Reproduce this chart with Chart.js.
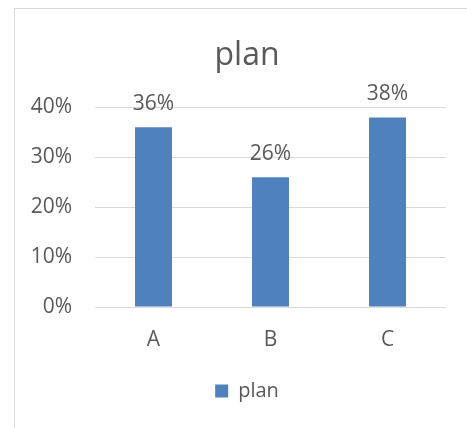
<!DOCTYPE html>
<html>
<head>
<meta charset="utf-8">
<script src="https://cdn.jsdelivr.net/npm/chart.js@4/dist/chart.umd.min.js"></script>
<style>
  html, body { margin: 0; padding: 0; background: #fff; overflow: hidden; width: 467px; height: 428px; }
  #box { position: absolute; left: 14px; top: 8px; width: 464px; height: 438px; border: 1px solid #D9D9D9; background: #fff; }
  canvas { display: block; }
</style>
</head>
<body>
<div id="box"><canvas id="c" width="464" height="438"></canvas></div>
<script>
const categories = ['A', 'B', 'C'];
const seriesName = 'plan';
const planValues = [0.36, 0.26, 0.38];
const yTickValues = [0, 0.1, 0.2, 0.3, 0.4];

const FONT = '"Open Sans", "DejaVu Sans", sans-serif';
const TEXT = '#595959';
const pct = v => Math.round(v * 100) + '%';

const valueLabels = {
  id: 'valueLabels',
  afterDatasetsDraw(chart) {
    const ctx = chart.ctx;
    ctx.save();
    ctx.font = '21px ' + FONT;
    ctx.fillStyle = TEXT;
    ctx.textAlign = 'center';
    ctx.textBaseline = 'alphabetic';
    chart.getDatasetMeta(0).data.forEach((bar, i) => {
      ctx.fillText(pct(chart.data.datasets[0].data[i]), bar.x, bar.y - 17);
    });
    ctx.restore();
  }
};

new Chart(document.getElementById('c'), {
  type: 'bar',
  data: {
    labels: categories,
    datasets: [{
      label: seriesName,
      data: planValues,
      backgroundColor: '#4F81BD',
      borderWidth: 0,
      categoryPercentage: 1,
      barPercentage: 0.316
    }]
  },
  options: {
    responsive: false,
    animation: false,
    devicePixelRatio: 1,
    layout: { padding: { left: 0, right: 0, top: 0, bottom: 36 } },
    scales: {
      x: {
        grid: { display: false },
        border: { display: false },
        ticks: { color: TEXT, font: { family: FONT, size: 21 }, padding: 12 },
        afterFit: s => { s.height = 64; }
      },
      y: {
        min: 0, max: 0.4,
        afterBuildTicks: s => { s.ticks = yTickValues.map(v => ({ value: v })); },
        grid: { color: '#D9D9D9', lineWidth: 1, drawTicks: false },
        border: { display: false },
        ticks: { color: TEXT, font: { family: FONT, size: 21 }, padding: 23, callback: v => pct(v) },
        afterFit: s => { s.width = 80; }
      },
      spacer: {
        type: 'linear',
        position: 'right',
        display: true,
        grid: { display: false, drawTicks: false },
        border: { display: false },
        ticks: { display: false },
        afterFit: s => { s.width = 33; }
      }
    },
    plugins: {
      title: {
        display: true,
        text: seriesName,
        color: TEXT,
        font: { family: FONT, size: 32, weight: 'normal' },
        padding: { top: 28, bottom: 32 }
      },
      legend: {
        position: 'bottom',
        labels: { color: TEXT, font: { family: FONT, size: 20 }, boxWidth: 13, boxHeight: 13, padding: 10 }
      },
      tooltip: { enabled: false }
    }
  },
  plugins: [valueLabels]
});
</script>
</body>
</html>
